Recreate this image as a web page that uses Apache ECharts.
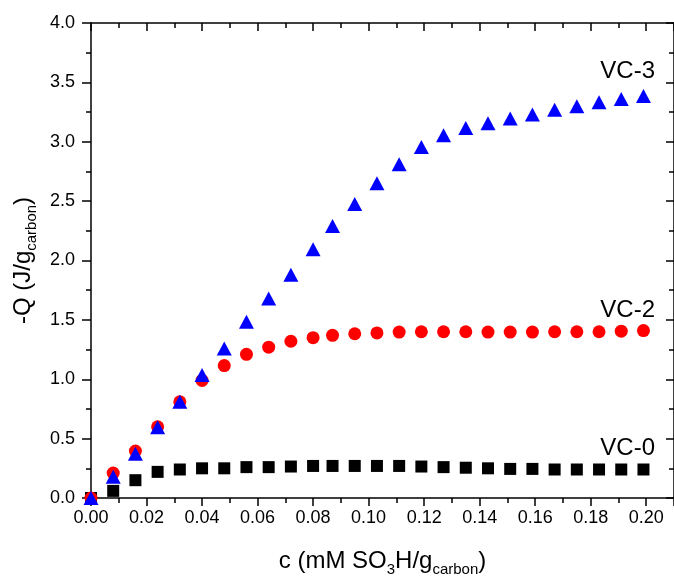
<!DOCTYPE html>
<html>
<head>
<meta charset="utf-8">
<script src="https://cdn.jsdelivr.net/npm/echarts@6/dist/echarts.min.js"></script>
<style>
    html, body { margin: 0; padding: 0; background: #fff; overflow: hidden; width: 674px; height: 582px; }
    #chart { width: 674px; height: 582px; }
</style>
</head>
<body>
<div id="chart"></div>
<script>
    // concentration, mM SO3H / g carbon
    var conc = [0, 0.008, 0.016, 0.024, 0.032, 0.040, 0.048, 0.056, 0.064, 0.072, 0.080, 0.087, 0.095,
        0.103, 0.111, 0.119, 0.127, 0.135, 0.143, 0.151, 0.159, 0.167, 0.175, 0.183, 0.191, 0.199]
    // -Q, J / g carbon
    var vc0 = [0, 0.06, 0.15, 0.22, 0.24, 0.25, 0.25, 0.26, 0.26, 0.265, 0.27, 0.27, 0.27,
        0.27, 0.27, 0.265, 0.26, 0.255, 0.25, 0.245, 0.245, 0.24, 0.24, 0.24, 0.24, 0.24]
    var vc2 = [0, 0.21, 0.395, 0.60, 0.81, 0.99, 1.115, 1.21, 1.27, 1.32, 1.35, 1.37, 1.383,
        1.39, 1.397, 1.40, 1.40, 1.40, 1.397, 1.397, 1.397, 1.40, 1.40, 1.40, 1.405, 1.41]
    var vc3 = [0, 0.18, 0.373, 0.595, 0.81, 1.035, 1.26, 1.485, 1.68, 1.88, 2.095, 2.29, 2.475,
        2.65, 2.81, 2.955, 3.055, 3.115, 3.155, 3.195, 3.23, 3.27, 3.30, 3.333, 3.36, 3.385]
    var seriesNames = ['VC-0', 'VC-2', 'VC-3']

    function pairs (ys) {
        var out = []
        for (var i = 0; i < conc.length; i++) out.push([conc[i], ys[i]])
        return out
    }

    var font = 'Liberation Sans, Arial, Helvetica, sans-serif'
    var black = '#000'
    var chart = echarts.init(document.getElementById('chart'))

    var axisLine = {show: true, onZero: false, lineStyle: {color: black, width: 1.5}}
    var minorTick = {show: true, splitNumber: 2, length: 5, lineStyle: {color: black, width: 1.5}}
    var titleRich = {
        m: {fontFamily: font, fontSize: 24, color: black},
        s: {fontFamily: font, fontSize: 15, color: black, padding: [16, 0, 0, 0]}
    }

    chart.setOption({
        backgroundColor: '#fff',
        animation: false,
        grid: {left: 91, top: 23, width: 585, height: 482, containLabel: false},
        xAxis: [{
            type: 'value',
            min: 0,
            max: 0.21,
            interval: 0.02,
            position: 'bottom',
            axisLine: axisLine,
            axisTick: {show: true, inside: false, length: 8, lineStyle: {color: black, width: 1.5}},
            minorTick: minorTick,
            splitLine: {show: false},
            axisLabel: {
                margin: 11, color: black, fontFamily: font, fontSize: 18,
                showMaxLabel: false,
                formatter: function (v) { return v > 0.2001 ? '' : v.toFixed(2) }
            },
            name: '{m|c (mM SO}{s|3}{m|H/g}{s|carbon}{m|)}',
            nameLocation: 'middle',
            nameGap: 48,
            nameTextStyle: {rich: titleRich}
        }, {
            type: 'value',
            min: 0,
            max: 0.21,
            interval: 0.02,
            position: 'top',
            axisLine: axisLine,
            axisTick: {show: true, inside: true, length: 8, lineStyle: {color: black, width: 1.5}},
            minorTick: minorTick,
            splitLine: {show: false},
            axisLabel: {show: false}
        }],
        yAxis: [{
            type: 'value',
            min: 0,
            max: 4,
            interval: 0.5,
            position: 'left',
            axisLine: axisLine,
            axisTick: {show: true, inside: false, length: 9, lineStyle: {color: black, width: 1.5}},
            minorTick: minorTick,
            splitLine: {show: false},
            axisLabel: {
                margin: 16, color: black, fontFamily: font, fontSize: 18,
                formatter: function (v) { return v.toFixed(1) }
            },
            name: '{m|-Q (J/g}{s|carbon}{m|)}',
            nameLocation: 'middle',
            nameRotate: 90,
            nameGap: 42,
            nameTextStyle: {rich: titleRich}
        }, {
            type: 'value',
            min: 0,
            max: 4,
            interval: 0.5,
            position: 'right',
            axisLine: axisLine,
            axisTick: {show: true, inside: true, length: 8, lineStyle: {color: black, width: 1.5}},
            minorTick: minorTick,
            splitLine: {show: false},
            axisLabel: {show: false}
        }],
        series: [{
            name: seriesNames[0],
            type: 'scatter',
            symbol: 'rect',
            symbolSize: 12,
            itemStyle: {color: '#000', opacity: 1},
            data: pairs(vc0)
        }, {
            name: seriesNames[1],
            type: 'scatter',
            symbol: 'circle',
            symbolSize: 13,
            itemStyle: {color: '#ff0000', opacity: 1},
            data: pairs(vc2)
        }, {
            name: seriesNames[2],
            type: 'scatter',
            symbol: 'triangle',
            symbolSize: [15, 14],
            itemStyle: {color: '#0000ff', opacity: 1},
            data: pairs(vc3)
        }],
        graphic: [
            {type: 'text', right: 19, top: 59, style: {text: seriesNames[2], font: '24px ' + font, fill: black}},
            {type: 'text', right: 19, top: 298, style: {text: seriesNames[1], font: '24px ' + font, fill: black}},
            {type: 'text', right: 19, top: 436, style: {text: seriesNames[0], font: '24px ' + font, fill: black}}
        ]
    })
</script>
</body>
</html>
